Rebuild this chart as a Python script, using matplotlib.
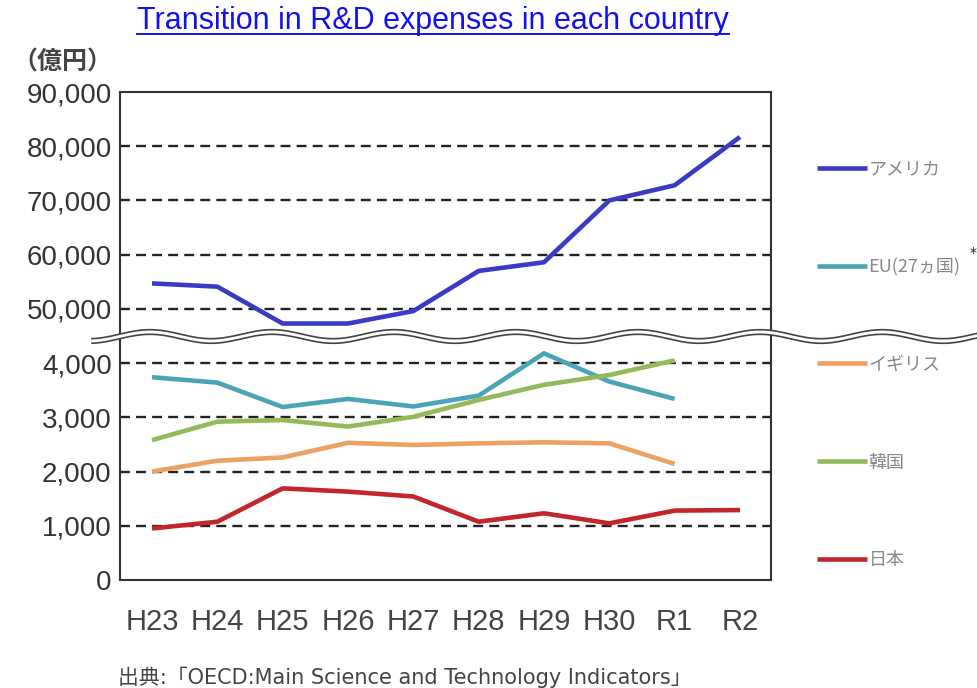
import numpy as np
import matplotlib
matplotlib.use('Agg')
import matplotlib.pyplot as plt
from matplotlib.lines import Line2D

# 研究開発費の推移（億円）
years = ['H23', 'H24', 'H25', 'H26', 'H27', 'H28', 'H29', 'H30', 'R1', 'R2']
usa = [54700, 54100, 47300, 47300, 49600, 57000, 58600, 70000, 72800, 81700]
eu = [3740, 3640, 3190, 3340, 3200, 3400, 4180, 3660, 3340, np.nan]
uk = [2000, 2200, 2260, 2530, 2490, 2520, 2540, 2520, 2140, np.nan]
korea = [2580, 2920, 2950, 2830, 3010, 3320, 3600, 3780, 4050, np.nan]
japan = [950, 1075, 1690, 1630, 1540, 1075, 1230, 1045, 1280, 1290]

names = ['アメリカ', 'EU(27ヵ国)', 'イギリス', '韓国', '日本']
colors = ['#3a3ac6', '#4ba4b5', '#eba262', '#93b95b', '#c2262b']

low_ticks = [0, 1000, 2000, 3000, 4000]
high_ticks = [50000, 60000, 70000, 80000, 90000]

W, H = 977, 688
jp = ['Noto Sans CJK JP', 'DejaVu Sans']
num_font = 'Liberation Sans'


def fx(px):
    return px / W


def fy(py):
    return 1 - py / H


fig = plt.figure(figsize=(W / 100, H / 100), dpi=100)

left, right, top, mid, bottom = 120, 771, 92, 336, 580
ax_hi = fig.add_axes([fx(left), fy(mid), fx(right - left), (mid - top) / H])
ax_lo = fig.add_axes([fx(left), fy(bottom), fx(right - left), (bottom - mid) / H])

x = np.arange(len(years))
grid_style = dict(color='#222222', linewidth=1.7, linestyle=(0, (4.2, 2.6)))

for ax in (ax_hi, ax_lo):
    ax.set_xlim(-0.49, 9.475)
    for s in ax.spines.values():
        s.set_color('#333333')
        s.set_linewidth(1.5)
    ax.tick_params(axis='y', length=0, pad=6, labelsize=20, labelcolor='#333333')
    ax.tick_params(axis='x', length=0)

ax_hi.spines['bottom'].set_visible(False)
ax_lo.spines['top'].set_visible(False)

ax_hi.set_ylim(45000, 90000)
ax_hi.set_yticks(high_ticks)
ax_hi.set_yticklabels([f'{v:,}' for v in high_ticks], fontfamily=num_font)
ax_hi.set_xticks([])
for v in high_ticks[:-1]:
    ax_hi.axhline(v, **grid_style, zorder=1)

ax_lo.set_ylim(0, 4500)
ax_lo.set_yticks(low_ticks)
ax_lo.set_yticklabels([f'{v:,}' for v in low_ticks], fontfamily=num_font)
ax_lo.set_xticks(x)
ax_lo.set_xticklabels(years, fontfamily=num_font, fontsize=21, color='#444444')
ax_lo.tick_params(axis='x', pad=20)
for v in low_ticks[1:]:
    ax_lo.axhline(v, **grid_style, zorder=1)

lw = 3.3
handles = []
handles.append(ax_hi.plot(x, usa, color=colors[0], lw=lw, solid_capstyle='butt', zorder=3)[0])
for vals, c in zip([eu, uk, korea, japan], colors[1:]):
    handles.append(ax_lo.plot(x, vals, color=c, lw=lw, solid_capstyle='butt', zorder=3)[0])

# 波線（軸の省略記号）
wx = np.linspace(92, 977, 600)
wy = 336.5 - 4.5 * np.cos(2 * np.pi * (wx - 150) / 122)
fig.add_artist(plt.Polygon(
    np.column_stack([np.r_[fx(wx), fx(wx[::-1])],
                     np.r_[fy(wy - 2.3), fy(wy[::-1] + 2.3)]]),
    closed=True, facecolor='white', edgecolor='none', transform=fig.transFigure, zorder=5))
for off in (-2.3, 2.3):
    fig.add_artist(Line2D(fx(wx), fy(wy + off), color='#444444', lw=1.2,
                          transform=fig.transFigure, zorder=6))

leg = fig.legend(handles, names, loc='upper left',
                 bbox_to_anchor=(fx(817), fy(160)), frameon=False,
                 prop={'family': jp, 'size': 13}, labelcolor='#888888',
                 handlelength=2.75, handletextpad=0.1, labelspacing=4.42,
                 borderpad=0, borderaxespad=0)
fig.text(fx(973), fy(253), '*', fontsize=10, color='#222222', ha='center', va='center')

fig.text(fx(12), fy(63), '（億円）', family=jp, fontsize=18, color='#444444',
         fontweight='bold', ha='left', va='center')

title = fig.text(fx(433), fy(29), 'Transition in R&D expenses in each country',
                 family='Liberation Sans', fontsize=22, color='#1212f0',
                 ha='center', va='baseline')
fig.canvas.draw()
bb = title.get_window_extent()
fig.add_artist(Line2D([bb.x0 / W, bb.x1 / W], [fy(34)] * 2,
                      color='#1212f0', lw=1.4, transform=fig.transFigure))

fig.text(fx(118), fy(677), '出典:「OECD:Main Science and Technology Indicators」',
         family=['DejaVu Sans', 'Noto Sans CJK JP'], fontsize=15, color='#444444',
         ha='left', va='center')

fig.savefig('out.png', dpi=100, facecolor='white')
